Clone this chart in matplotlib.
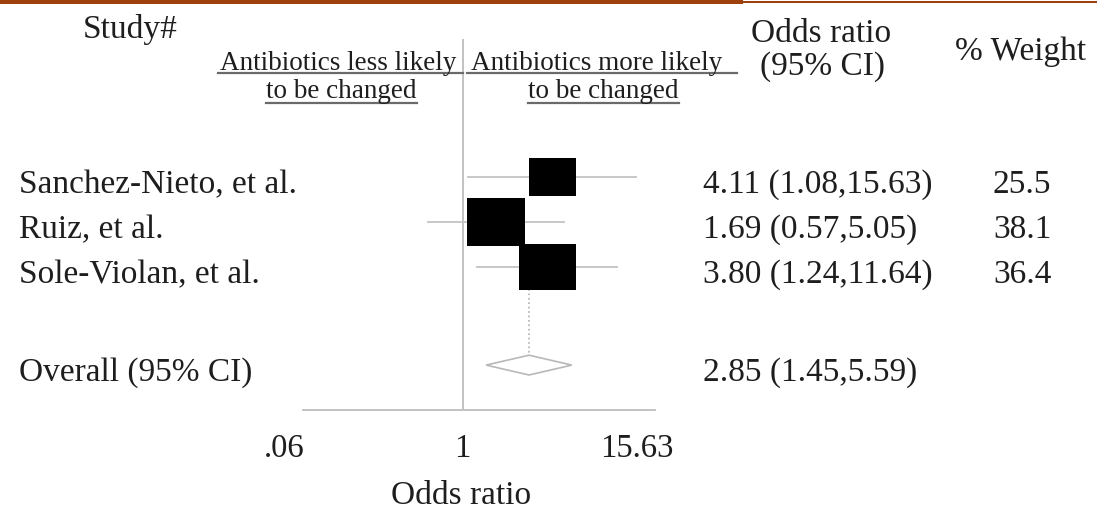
import matplotlib
matplotlib.use("Agg")
import matplotlib.pyplot as plt
import matplotlib.transforms as mtransforms
from matplotlib.lines import Line2D
from matplotlib.patches import Rectangle
from matplotlib.path import Path
import numpy as np

# data
studies = ["Sanchez-Nieto, et al.", "Ruiz, et al.", "Sole-Violan, et al."]
odds = [4.11, 1.69, 3.80]
ci_low = [1.08, 0.57, 1.24]
ci_high = [15.63, 5.05, 11.64]
weights = [25.5, 38.1, 36.4]
overall_label = "Overall (95% CI)"
overall_or = 2.85
overall_low = 1.45
overall_high = 5.59
tick_values = [0.06, 1, 15.63]
tick_labels = [".06", "1", "15.63"]

plt.rcParams['font.family'] = ['Liberation Serif', 'DejaVu Serif']
TXT = '#1e1e1e'
GREY = '#c4c4c4'

W, H = 1097, 512
fig = plt.figure(figsize=(W / 100, H / 100), dpi=100)


def fx(px):
    return px / W


def fy(py):
    return 1 - py / H


ax = fig.add_axes([fx(303), fy(410), fx(655) - fx(303), fy(39) - fy(410)])
ax.set_xscale('log')
ax.set_xlim(0.0811, 20.72)
ax.set_ylim(5.178, -3.067)
for s in ['top', 'left', 'right']:
    ax.spines[s].set_visible(False)
ax.spines['bottom'].set_color('#bdbdbd')
ax.spines['bottom'].set_linewidth(1.3)
ax.tick_params(length=0, labelbottom=False, labelleft=False)
ax.minorticks_off()
ax.patch.set_alpha(0)

rows = np.arange(len(studies))
overall_y = 4.18

ax.axvline(1, color='#bdbdbd', lw=1.3, zorder=1)
ax.hlines(rows, ci_low, ci_high, color=GREY, lw=1.3, zorder=2)

# boxes a bit wider than tall, area ~ weight
box = Path([(-1.23, -1), (1.23, -1), (1.23, 1), (-1.23, 1), (-1.23, -1)],
           [Path.MOVETO, Path.LINETO, Path.LINETO, Path.LINETO, Path.CLOSEPOLY])
ax.scatter(odds, rows, s=np.array(weights) * 45.6, marker=box,
           color='black', zorder=4, linewidths=0)

dh = 0.22
ax.plot([overall_or, overall_or], [rows[-1], overall_y - dh], ls=':',
        color='#b0b0b0', lw=1.2, zorder=3)
ax.fill([overall_low, overall_or, overall_high, overall_or],
        [overall_y, overall_y - dh, overall_y, overall_y + dh],
        facecolor='white', edgecolor='#b8b8b8', lw=1.2, zorder=3)

# row texts tied to the row positions
row_tr = (mtransforms.blended_transform_factory(fig.transFigure, ax.transData)
          + mtransforms.ScaledTranslation(0, -16 / 100, fig.dpi_scale_trans))
or_text = [f"{o:.2f} ({l:.2f},{h:.2f})" for o, l, h in zip(odds, ci_low, ci_high)]
for y, name, ort, w in zip(rows, studies, or_text, weights):
    fig.text(fx(19), y, name, transform=row_tr, fontsize=24, color=TXT, va='baseline')
    fig.text(fx(703), y, ort, transform=row_tr, fontsize=24, color=TXT, va='baseline')
    fig.text(fx(993), y, f"{w:.1f}", transform=row_tr, fontsize=24, color=TXT, va='baseline')
fig.text(fx(19), overall_y, overall_label, transform=row_tr, fontsize=24, color=TXT, va='baseline')
fig.text(fx(703), overall_y, f"{overall_or:.2f} ({overall_low:.2f},{overall_high:.2f})",
         transform=row_tr, fontsize=24, color=TXT, va='baseline')

# x tick labels and axis title
tick_tr = mtransforms.blended_transform_factory(ax.transData, fig.transFigure)
for v, lab in zip(tick_values, tick_labels):
    ax.text(v, fy(457), lab, transform=tick_tr, fontsize=23.5, color=TXT,
            ha='center', va='baseline', clip_on=False)
fig.text(fx(461), fy(504), "Odds ratio", fontsize=24, color=TXT, ha='center', va='baseline')

# headers
fig.text(fx(83), fy(38), "Study#", fontsize=24, color=TXT, va='baseline')
fig.text(fx(821), fy(42), "Odds ratio", fontsize=24, color=TXT, ha='center', va='baseline')
fig.text(fx(822), fy(75), "(95% CI)", fontsize=24, color=TXT, ha='center', va='baseline')
fig.text(fx(1021), fy(60), "% Weight", fontsize=24, color=TXT, ha='center', va='baseline')

fig.text(fx(338), fy(70), "Antibiotics less likely", fontsize=19.5, color=TXT, ha='center', va='baseline')
fig.text(fx(341), fy(98), "to be changed", fontsize=19.5, color=TXT, ha='center', va='baseline')
fig.text(fx(597), fy(70), "Antibiotics more likely", fontsize=19.5, color=TXT, ha='center', va='baseline')
fig.text(fx(603), fy(98), "to be changed", fontsize=19.5, color=TXT, ha='center', va='baseline')
for x0, x1, y in [(218, 463, 73), (266, 417, 103), (467, 737, 73), (528, 679, 103)]:
    fig.add_artist(Line2D([fx(x0), fx(x1)], [fy(y), fy(y)], color='#6a6a6a', lw=1.6))

# brown rule along the top
fig.add_artist(Rectangle((0, fy(4)), fx(743), 4 / H, transform=fig.transFigure,
                         color='#9e400c', lw=0))
fig.add_artist(Rectangle((fx(743), fy(3)), 1 - fx(743), 2 / H, transform=fig.transFigure,
                         color='#9e400c', lw=0))

fig.savefig("out.png", dpi=100)
